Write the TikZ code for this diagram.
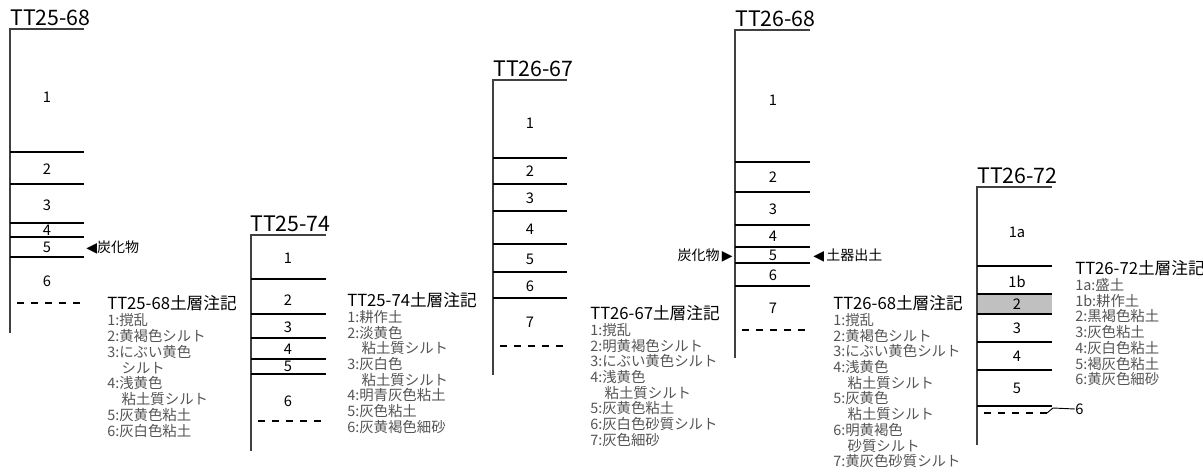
\documentclass[tikz,border=0pt]{standalone}
\usepackage{fontspec}
\setmainfont{Noto Sans CJK JP}
\newfontfamily\symfont{DejaVu Sans}
\usetikzlibrary{positioning, calc}
\definecolor{notegray}{RGB}{85,85,85}
\definecolor{layergray}{RGB}{192,192,192}

\begin{document}
\begin{tikzpicture}[
        x=0.75pt, y=-0.75pt,
        every node/.style={inner sep=0pt},
        pittitle/.style={anchor=south west, font=\fontsize{16}{16}\selectfont},
        layerno/.style={font=\fontsize{11}{11}\selectfont},
        notehead/.style={anchor=west, font=\fontsize{12.5}{12.5}\selectfont},
        notebody/.style={align=left, text=notegray, font=\fontsize{10.8}{11.8}\selectfont},
        findnote/.style={font=\fontsize{10.5}{10.5}\selectfont},
        wall/.style={line width=1.1pt, black!75},
        layerline/.style={line width=0.9pt},
        pitbase/.style={line width=0.8pt, dash pattern=on 5pt off 5.5pt}
    ]
    \useasboundingbox (0,0) rectangle (1203,475);

    % TT25-68
    \node[pittitle] (t2568) at (10,26) {TT25-68};
    \draw[wall] (84,29) -- (10,29) -- (10,333);
    \foreach \y in {152,184,223,237,257}
        \draw[layerline] (10,\y) -- (84,\y);
    \draw[pitbase] (17,303) -- (84,303);
    \foreach \y/\n in {97/1,169/2,205/3,230/4,247/5,281/6}
        \node[layerno] (l2568-\n) at (47,\y) {\n};
    \node[findnote, anchor=west] (c2568) at (86,247) {{\symfont ◀}炭化物};
    \node[notehead] (h2568) at (107,303) {TT25-68土層注記};
    \node[notebody, below=2pt of h2568.south west, anchor=north west] (n2568)
        {1:撹乱\\2:黄褐色シルト\\3:にぶい黄色\\\hspace*{1em}シルト\\4:浅黄色\\\hspace*{1em}粘土質シルト\\5:灰黄色粘土\\6:灰白色粘土};

    % TT25-74
    \node[pittitle] (t2574) at (250,232) {TT25-74};
    \draw[wall] (326,235) -- (251,235) -- (251,451);
    \foreach \y in {279,314,338,359,374}
        \draw[layerline] (251,\y) -- (326,\y);
    \draw[pitbase] (258,421) -- (326,421);
    \foreach \y/\n in {258/1,300/2,327/3,349/4,366/5,401/6}
        \node[layerno] (l2574-\n) at (288,\y) {\n};
    \node[notehead] (h2574) at (347,300) {TT25-74土層注記};
    \node[notebody, below=1.5pt of h2574.south west, anchor=north west] (n2574)
        {1:耕作土\\2:淡黄色\\\hspace*{1em}粘土質シルト\\3:灰白色\\\hspace*{1em}粘土質シルト\\4:明青灰色粘土\\5:灰色粘土\\6:灰黄褐色細砂};

    % TT26-67
    \node[pittitle] (t2667) at (493,77) {TT26-67};
    \draw[wall] (567,80) -- (493,80) -- (493,375);
    \foreach \y in {158,184,211,244,272,298}
        \draw[layerline] (493,\y) -- (567,\y);
    \draw[pitbase] (500,346) -- (567,346);
    \foreach \y/\n in {123/1,171/2,198/3,229/4,259/5,286/6,322/7}
        \node[layerno] (l2667-\n) at (530,\y) {\n};
    \node[notehead] (h2667) at (590,313) {TT26-67土層注記};
    \node[notebody, below=1.5pt of h2667.south west, anchor=north west] (n2667)
        {1:撹乱\\2:明黄褐色シルト\\3:にぶい黄色シルト\\4:浅黄色\\\hspace*{1em}粘土質シルト\\5:灰黄色粘土\\6:灰白色砂質シルト\\7:灰色細砂};

    % TT26-68
    \node[pittitle] (t2668) at (735,27) {TT26-68};
    \draw[wall] (810,30) -- (735,30) -- (735,358);
    \foreach \y in {162,192,225,247,263,286}
        \draw[layerline] (735,\y) -- (810,\y);
    \draw[pitbase] (742,330) -- (810,330);
    \foreach \y/\n in {100/1,177/2,209/3,236/4,255/5,275/6,308/7}
        \node[layerno] (l2668-\n) at (773,\y) {\n};
    \node[findnote, anchor=east] (c2668) at (733,255) {炭化物\,{\symfont ▶}};
    \node[findnote, anchor=west] (d2668) at (813,255) {{\symfont ◀}\,土器出土};
    \node[notehead] (h2668) at (833,303) {TT26-68土層注記};
    \node[notebody, below=1.5pt of h2668.south west, anchor=north west] (n2668)
        {1:撹乱\\2:黄褐色シルト\\3:にぶい黄色シルト\\4:浅黄色\\\hspace*{1em}粘土質シルト\\5:灰黄色\\\hspace*{1em}粘土質シルト\\6:明黄褐色\\\hspace*{1em}砂質シルト\\7:黄灰色砂質シルト};

    % TT26-72
    \node[pittitle] (t2672) at (977,184) {TT26-72};
    \fill[layergray] (977,294) rectangle (1052,314);
    \draw[wall] (1052,187) -- (977,187) -- (977,445);
    \foreach \y in {266,294,314,342,370,406}
        \draw[layerline] (977,\y) -- (1052,\y);
    \draw[pitbase] (984,413) -- (1047,413);
    \foreach \y/\n in {232/1a,282/1b,304/2,328/3,356/4,388/5}
        \node[layerno] (l2672-\n) at (1017,\y) {\n};
    \node[layerno, anchor=west] (l2672-6) at (1075,409) {6};
    \draw[line width=0.7pt] (1047,413) -- (1053,408) -- (l2672-6.west);
    \node[notehead] (h2672) at (1075,268) {TT26-72土層注記};
    \node[notebody, below=1.5pt of h2672.south west, anchor=north west] (n2672)
        {1a:盛土\\1b:耕作土\\2:黒褐色粘土\\3:灰色粘土\\4:灰白色粘土\\5:褐灰色粘土\\6:黄灰色細砂};
\end{tikzpicture}
\end{document}
